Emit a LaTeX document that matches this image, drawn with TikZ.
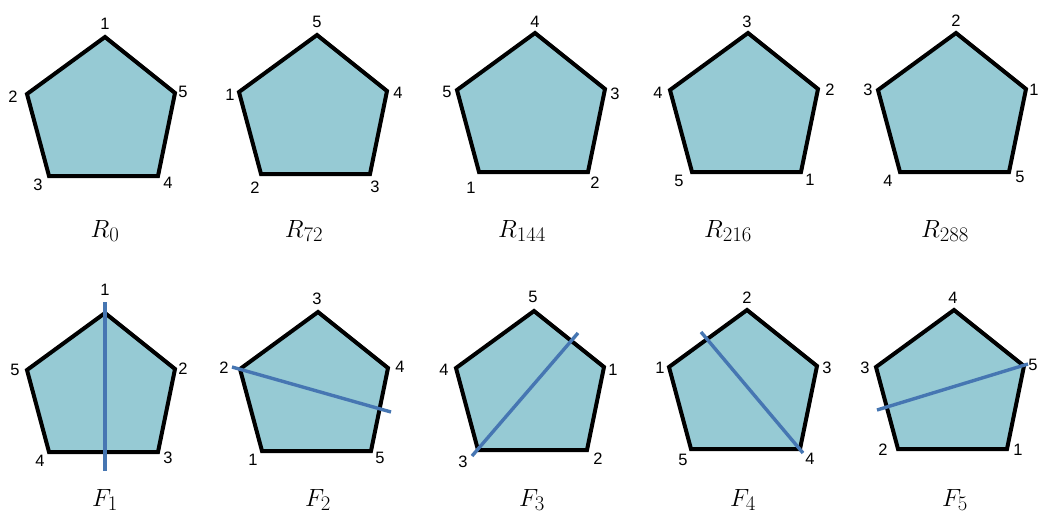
\documentclass[tikz,border=0pt]{standalone}
\usepackage{fontspec}
\newfontfamily\labfont{Liberation Sans}
\usetikzlibrary{calc}
\definecolor{pentfill}{RGB}{150,202,212}
\definecolor{axisblue}{RGB}{70,118,178}
\tikzset{
  pent/.style={draw=black, fill=pentfill, line width=4pt},
  axisline/.style={draw=axisblue, line width=3.4pt},
  vlab/.style={inner sep=0pt, font=\labfont\fontsize{16.5}{16.5}\selectfont},
  captxt/.style={anchor=base, inner sep=0pt, font=\fontsize{32}{36}\selectfont}
}
% #1 prefix, #2 x of top vertex, #3 y of top vertex
\newcommand\mypent[3]{%
  \coordinate (#1t) at (#2,#3);
  \coordinate (#1l) at ($(#1t)+(-78,57)$);
  \coordinate (#1r) at ($(#1t)+(70,56)$);
  \coordinate (#1bl) at ($(#1t)+(-56,139)$);
  \coordinate (#1br) at ($(#1t)+(53,139)$);
  \path[pent] (#1t) -- (#1r) -- (#1br) -- (#1bl) -- (#1l) -- cycle;
}
\begin{document}
\begin{tikzpicture}[x=1pt,y=-1pt]
\useasboundingbox (0,0) rectangle (1039,514);
% top row
\mypent{a}{105}{37}
\mypent{b}{317}{35}
\mypent{c}{535}{33}
\mypent{d}{748}{33}
\mypent{e}{956}{33}
% bottom row
\mypent{f}{105}{313}
\mypent{g}{318}{312}
\mypent{h}{534}{311}
\mypent{i}{747}{310}
\mypent{j}{954}{310}
% reflection axes
\coordinate (f1) at (105,302); \coordinate (f2) at (105,471);
\coordinate (g1) at (232,367); \coordinate (g2) at (391,412);
\coordinate (h1) at (472,456); \coordinate (h2) at (578,333);
\coordinate (i1) at (701,332); \coordinate (i2) at (803,453);
\coordinate (j1) at (877,410); \coordinate (j2) at (1028,364);
\draw[axisline] (f1) -- (f2);
\draw[axisline] (g1) -- (g2);
\draw[axisline] (h1) -- (h2);
\draw[axisline] (i1) -- (i2);
\draw[axisline] (j1) -- (j2);
% vertex labels, R0
\node[vlab] (a1) at (105,24) {1};
\node[vlab] (a2) at (13,97) {2};
\node[vlab] (a5) at (183,92) {5};
\node[vlab] (a3) at (38,185) {3};
\node[vlab] (a4) at (168,183) {4};
% R72
\node[vlab] (b5) at (317,22) {5};
\node[vlab] (b1) at (230,95) {1};
\node[vlab] (b4) at (398,93) {4};
\node[vlab] (b2) at (255,188) {2};
\node[vlab] (b3) at (375,187) {3};
% R144
\node[vlab] (c4) at (535,22) {4};
\node[vlab] (c5) at (447,92) {5};
\node[vlab] (c3) at (615,94) {3};
\node[vlab] (c1) at (471,188) {1};
\node[vlab] (c2) at (595,183) {2};
% R216
\node[vlab] (d3) at (747,22) {3};
\node[vlab] (d4) at (658,93) {4};
\node[vlab] (d2) at (830,90) {2};
\node[vlab] (d5) at (679,181) {5};
\node[vlab] (d1) at (810,180) {1};
% R288
\node[vlab] (e2) at (956,21) {2};
\node[vlab] (e3) at (868,90) {3};
\node[vlab] (e1) at (1034,90) {1};
\node[vlab] (e4) at (888,181) {4};
\node[vlab] (e5) at (1020,177) {5};
% F1
\node[vlab] (fl1) at (105,290) {1};
\node[vlab] (fl5) at (15,370) {5};
\node[vlab] (fl2) at (183,369) {2};
\node[vlab] (fl4) at (40,461) {4};
\node[vlab] (fl3) at (168,458) {3};
% F2
\node[vlab] (gl3) at (317,299) {3};
\node[vlab] (gl2) at (224,368) {2};
\node[vlab] (gl4) at (400,367) {4};
\node[vlab] (gl1) at (253,460) {1};
\node[vlab] (gl5) at (380,458) {5};
% F3
\node[vlab] (hl5) at (533,297) {5};
\node[vlab] (hl4) at (444,370) {4};
\node[vlab] (hl1) at (613,370) {1};
\node[vlab] (hl3) at (463,462) {3};
\node[vlab] (hl2) at (598,459) {2};
% F4
\node[vlab] (il2) at (747,298) {2};
\node[vlab] (il1) at (660,368) {1};
\node[vlab] (il3) at (827,368) {3};
\node[vlab] (il5) at (683,460) {5};
\node[vlab] (il4) at (810,459) {4};
% F5
\node[vlab] (jl4) at (953,298) {4};
\node[vlab] (jl3) at (865,368) {3};
\node[vlab] (jl5) at (1033,365) {5};
\node[vlab] (jl2) at (883,450) {2};
\node[vlab] (jl1) at (1018,450) {1};
% captions
\node[captxt] (ca) at (105,237) {$R_{0}$};
\node[captxt] (cb) at (304,237) {$R_{72}$};
\node[captxt] (cc) at (522,237) {$R_{144}$};
\node[captxt] (cd) at (728,237) {$R_{216}$};
\node[captxt] (ce) at (945,237) {$R_{288}$};
\node[captxt] (cf) at (105,506) {$F_{1}$};
\node[captxt] (cg) at (318,506) {$F_{2}$};
\node[captxt] (ch) at (532,506) {$F_{3}$};
\node[captxt] (ci) at (743,506) {$F_{4}$};
\node[captxt] (cj) at (955,506) {$F_{5}$};
\end{tikzpicture}
\end{document}
